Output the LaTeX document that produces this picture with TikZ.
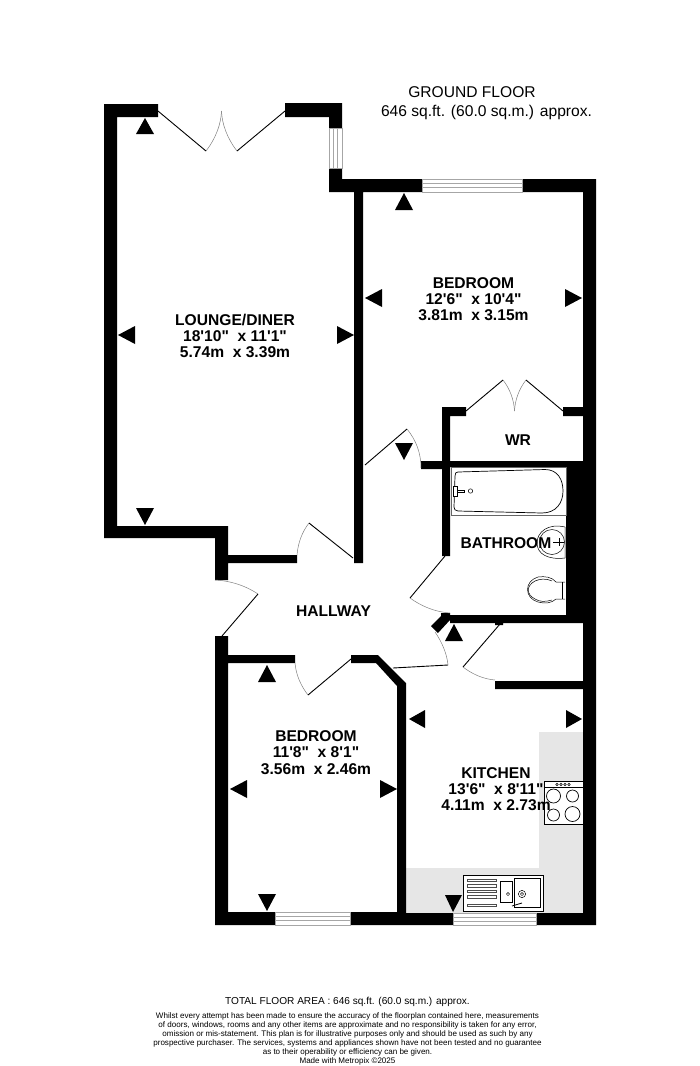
\documentclass[tikz,border=0pt]{standalone}
\usepackage{fontspec}
\newfontfamily\planfont{Liberation Sans}
\usepackage{tikz}
\definecolor{counter}{HTML}{E6E6E6}
\tikzstyle{roomlabel} = [font=\planfont\bfseries\fontsize{15.6}{16.3}\selectfont, align=center, inner sep=0pt]
\tikzstyle{heading} = [font=\planfont\fontsize{15.6}{20}\selectfont, inner sep=0pt]
\tikzstyle{smallprint} = [font=\planfont\fontsize{8.05}{9.1}\selectfont, align=center, inner sep=0pt]
\tikzstyle{wall} = [fill=black]
\tikzstyle{windowpane} = [draw=gray!70, line width=0.6pt, fill=white]
\tikzstyle{paneline} = [draw=gray!70, line width=0.6pt]
\tikzstyle{leaf} = [draw=black, line width=0.9pt]
\tikzstyle{swing} = [draw=gray, line width=0.5pt]
\tikzstyle{marker} = [fill=black]
\tikzstyle{fixture} = [draw=black, line width=0.5pt, fill=white]
\tikzstyle{drainer} = [draw=gray!60!black, line width=0.4pt, fill=white]
\begin{document}
\begin{tikzpicture}[x=1pt, y=-1pt]
\useasboundingbox (0,0) rectangle (700,1066);
% kitchen units
\fill[counter] (539,732) rectangle (584,913);
\fill[counter] (406,868) rectangle (584,913);
% walls
\fill[wall] (158,104) -- (104,104) -- (104,538) -- (215,538) -- (215,580) -- (228,580) -- (228,563) -- (297,563) -- (297,555) -- (228,555) -- (228,526) -- (117,526) -- (117,117) -- (158,117) -- cycle;
\fill[wall] (285,103) -- (342,103) -- (342,179) -- (596,179) -- (596,925) -- (536,925) -- (536,913) -- (583,913) -- (583,689) -- (495,689) -- (495,681) -- (583,681) -- (583,623) -- (503,623) -- (503,625) -- (495,625) -- (495,623) -- (450,623) -- (450,620) -- (438,633) -- (431,626) -- (441,616) -- (441,613) -- (450,613) -- (450,615) -- (566,615) -- (566,467) -- (450,467) -- (450,556) -- (442,556) -- (442,469) -- (421,469) -- (421,461) -- (442,461) -- (442,407) -- (466,407) -- (466,416) -- (450,416) -- (450,461) -- (583,461) -- (583,416) -- (563,416) -- (563,407) -- (583,407) -- (583,192) -- (363,192) -- (363,563) -- (354,563) -- (354,192) -- (329,192) -- (329,117) -- (285,117) -- cycle;
\fill[wall] (215,636) -- (228,636) -- (228,655) -- (295,655) -- (295,663) -- (228,663) -- (228,912) -- (397,912) -- (397,686) -- (376,663) -- (351,663) -- (351,655) -- (378,655) -- (406,683) -- (406,913) -- (453,913) -- (453,925) -- (215,925) -- cycle;
% windows
\draw[windowpane] (329,128) rectangle (342,168);
\draw[paneline] (333.5,128) -- (333.5,168);
\draw[paneline] (337.5,128) -- (337.5,168);
\draw[windowpane] (422,179) rectangle (522,192);
\draw[paneline] (422,183.5) -- (522,183.5);
\draw[paneline] (422,187.5) -- (522,187.5);
\draw[windowpane] (275,912) rectangle (350,925);
\draw[paneline] (275,916.5) -- (350,916.5);
\draw[paneline] (275,920.5) -- (350,920.5);
\draw[windowpane] (453,913) rectangle (536,925);
\draw[paneline] (453,917) -- (536,917);
\draw[paneline] (453,921) -- (536,921);
% doors
\draw[leaf] (158,111) -- (206,151);
\draw[swing] (206,151) .. controls (216,138) and (221,124) .. (221.5,111);
\draw[leaf] (285,111) -- (237,151);
\draw[swing] (237,151) .. controls (227,138) and (222,124) .. (221.5,111);
\draw[leaf] (466,411) -- (503,380);
\draw[swing] (503,380) .. controls (510,389) and (514,400) .. (514.5,411);
\draw[leaf] (563,411) -- (526,380);
\draw[swing] (526,380) .. controls (519,389) and (515,400) .. (514.5,411);
\draw[leaf] (365,465) -- (407,429);
\draw[swing] (407,429) .. controls (416,440) and (421,453) .. (421,468);
\draw[leaf] (309,523) -- (353,558);
\draw[swing] (297,555) .. controls (298,543) and (302,532) .. (309,523);
\draw[leaf] (222,636) -- (258,594);
\draw[swing] (258,594) .. controls (246,586) and (232,581) .. (215,580);
\draw[leaf] (445,556) -- (410,598);
\draw[swing] (410,598) .. controls (421,606) and (435,612) .. (450,613);
\draw[leaf] (351,659) -- (308,695);
\draw[swing] (295,663) .. controls (296,675) and (301,686) .. (308,695);
\draw[leaf] (393,668) -- (448,665);
\draw[swing] (448,665) .. controls (447,654) and (442,642) .. (435,632);
\draw[leaf] (500,624) -- (463,667);
\draw[swing] (463,667) .. controls (472,674) and (483,679) .. (495,680);
% bath
\draw[draw=gray!80!black, line width=0.8pt, fill=white] (451,467) rectangle (566,515);
\draw[fixture, line width=0.7pt] (458,472) -- (545,469.5) .. controls (558,469.5) and (563,480) .. (563,491) .. controls (563,503) and (556,513) .. (542,513) -- (458,511) .. controls (455,511) and (454,509) .. (454,507) -- (455,476) .. controls (455,473) and (456,472) .. (458,472) -- cycle;
\draw[fixture] (453,486) rectangle (457,496);
\draw[fixture] (457,490) rectangle (464,492.5);
\draw[fixture] (470.5,491) circle (2.2);
% basin and toilet
\draw[fixture] (565,527) .. controls (548,523) and (537,532) .. (537,543) .. controls (537,554) and (548,560) .. (565,558) -- cycle;
\draw[fixture] (552,542) circle (12.5);
\draw[fixture] (553,542) -- (564,542);
\draw[fixture] (559,538) -- (559,546);
\draw[fixture] (565,582) -- (556,582) .. controls (552,577) and (545,576) .. (538,577) .. controls (524,581) and (524,598) .. (538,602) .. controls (545,604) and (552,603) .. (556,599) -- (565,599);
\draw[fixture] (552,581) .. controls (545,578) and (540,579) .. (535,581) .. controls (526,586) and (526,594) .. (535,599) .. controls (540,602) and (545,602) .. (552,600);
\draw[fixture] (562,582) -- (562,599);
% hob
\draw[fixture, line width=0.8pt] (544,781) rectangle (583,824);
\draw[fixture] (544,787) -- (583,787);
\draw[fixture] (557,784.5) circle (1.2);
\draw[fixture] (561,784.5) circle (1.2);
\draw[fixture] (565,784.5) circle (1.2);
\draw[fixture] (569,784.5) circle (1.2);
\draw[fixture, line width=0.7pt] (553.5,796) circle (7);
\draw[fixture, line width=0.7pt] (572.5,796) circle (6);
\draw[fixture, line width=0.7pt] (553.5,815) circle (6);
\draw[fixture, line width=0.7pt] (572.5,814) circle (7.5);
% sink
\draw[fixture, line width=0.8pt] (463,875) rectangle (543,911);
\draw[drainer] (467,879) rectangle (496,881.5);
\draw[drainer] (467,884.5) rectangle (496,887);
\draw[drainer] (467,890) rectangle (496,892.5);
\draw[drainer] (467,895.5) rectangle (496,898);
\draw[drainer] (467,904) rectangle (496,906.5);
\draw[fixture, line width=0.7pt] (500,881) rectangle (512,902);
\draw[fixture] (514,878) rectangle (540,907);
\draw[fixture] (508,894) circle (1.6);
\draw[fixture] (522,894) circle (3.6);
\draw[fixture] (522,894) circle (1.6);
\draw[fixture, line width=0.8pt] (512,906) -- (522,903);
% markers
\fill[marker] (145,118) -- (136,134) -- (154,134) -- cycle;
\fill[marker] (118,335) -- (135,326) -- (135,344) -- cycle;
\fill[marker] (354,335) -- (337,326) -- (337,344) -- cycle;
\fill[marker] (145,525) -- (136,508) -- (154,508) -- cycle;
\fill[marker] (404,193) -- (395,210) -- (413,210) -- cycle;
\fill[marker] (365,298) -- (382,289) -- (382,307) -- cycle;
\fill[marker] (582,298) -- (565,289) -- (565,307) -- cycle;
\fill[marker] (404,460) -- (395,443) -- (413,443) -- cycle;
\fill[marker] (454,624) -- (445,641) -- (463,641) -- cycle;
\fill[marker] (409,719) -- (425,710) -- (425,728) -- cycle;
\fill[marker] (582,719) -- (566,710) -- (566,728) -- cycle;
\fill[marker] (453,912) -- (445,895) -- (462,895) -- cycle;
\fill[marker] (267,665) -- (258,682) -- (276,682) -- cycle;
\fill[marker] (230,789) -- (247,780) -- (247,798) -- cycle;
\fill[marker] (397,789) -- (380,780) -- (380,798) -- cycle;
\fill[marker] (267,911) -- (258,894) -- (276,894) -- cycle;
% labels
\node (title) [heading] at (472,92) {GROUND FLOOR};
\node (area) [heading] at (486.5,112) {646 sq.ft. (60.0 sq.m.) approx.};
\node (lounge) [roomlabel] at (235,336) {LOUNGE/DINER\\18'10"\ \ x 11'1"\\5.74m\ \ x 3.39m};
\node (bedroomone) [roomlabel] at (473.5,299) {BEDROOM\\12'6"\ \ x 10'4"\\3.81m\ \ x 3.15m};
\node (wr) [roomlabel] at (518,440) {WR};
\node (bathroom) [roomlabel] at (506,543) {BATHROOM};
\node (hallway) [roomlabel] at (333.5,611) {HALLWAY};
\node (bedroomtwo) [roomlabel] at (316,752.5) {BEDROOM\\11'8"\ \ x 8'1"\\3.56m\ \ x 2.46m};
\node (kitchen) [roomlabel] at (496,789) {KITCHEN\\13'6"\ \ x 8'11"\\4.11m\ \ x 2.73m};
\node (total) [font=\planfont\fontsize{10.1}{12}\selectfont, inner sep=0pt] at (347.5,1002) {TOTAL FLOOR AREA : 646 sq.ft. (60.0 sq.m.) approx.};
\node (disclaimer) [smallprint] at (347.5,1039) {Whilst every attempt has been made to ensure the accuracy of the floorplan contained here, measurements\\of doors, windows, rooms and any other items are approximate and no responsibility is taken for any error,\\omission or mis-statement. This plan is for illustrative purposes only and should be used as such by any\\prospective purchaser. The services, systems and appliances shown have not been tested and no guarantee\\as to their operability or efficiency can be given.\\Made with Metropix \textcopyright 2025};
\end{tikzpicture}
\end{document}
